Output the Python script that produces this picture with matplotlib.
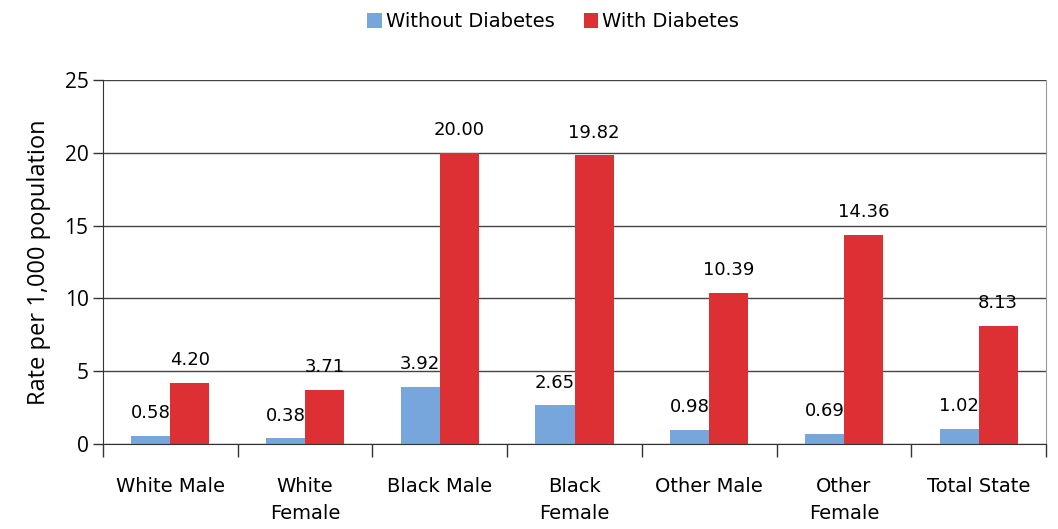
import matplotlib.pyplot as plt
import numpy as np

categories = ['White Male', 'White\nFemale', 'Black Male', 'Black\nFemale',
              'Other Male', 'Other\nFemale', 'Total State']
without_diabetes = [0.58, 0.38, 3.92, 2.65, 0.98, 0.69, 1.02]
with_diabetes = [4.20, 3.71, 20.00, 19.82, 10.39, 14.36, 8.13]

blue = '#77a6dc'
red = '#dc3034'

fig = plt.figure(figsize=(10.58, 5.29), dpi=100)
ax = fig.add_axes([0.0974, 0.1607, 0.8913, 0.6881])

x = np.arange(len(categories))
w = 0.29
b1 = ax.bar(x - w/2, without_diabetes, w, color=blue, label='Without Diabetes')
b2 = ax.bar(x + w/2, with_diabetes, w, color=red, label='With Diabetes')

for bars, vals in ((b1, without_diabetes), (b2, with_diabetes)):
    for r, v in zip(bars, vals):
        ax.annotate('%.2f' % v, (r.get_x() + r.get_width()/2, v),
                    xytext=(0, 10), textcoords='offset points',
                    ha='center', va='bottom', fontsize=13)

ax.set_xlim(-0.5, len(categories) - 0.5)
ax.set_ylim(0, 25)
ax.set_yticks([0, 5, 10, 15, 20, 25])
ax.yaxis.grid(True, color='#444444', linewidth=1)
ax.set_axisbelow(True)

ax.set_xticks(x)
ax.set_xticklabels(categories, fontsize=14, linespacing=1.5)
ax.set_xticks(np.arange(-0.5, len(categories)), minor=True)
ax.tick_params(axis='x', which='major', length=0, pad=24)
ax.tick_params(axis='x', which='minor', length=9, width=1, color='#333333')
ax.tick_params(axis='y', length=7, width=1, color='#333333', labelsize=15)
for lab in ax.get_yticklabels():
    lab.set_family('Open Sans')

ax.set_ylabel('Rate per 1,000 population', fontsize=17, family='Open Sans', labelpad=10)

ax.spines['top'].set_visible(False)
ax.spines['right'].set_color('#999999')
ax.spines['left'].set_color('#333333')
ax.spines['bottom'].set_color('#333333')

fig.legend(loc='upper center', bbox_to_anchor=(0.523, 1.01), ncol=2, frameon=False,
           fontsize=14, handlelength=0.75, handleheight=0.75, handletextpad=0.2,
           columnspacing=1.5)

plt.savefig('out.png', dpi=100)
